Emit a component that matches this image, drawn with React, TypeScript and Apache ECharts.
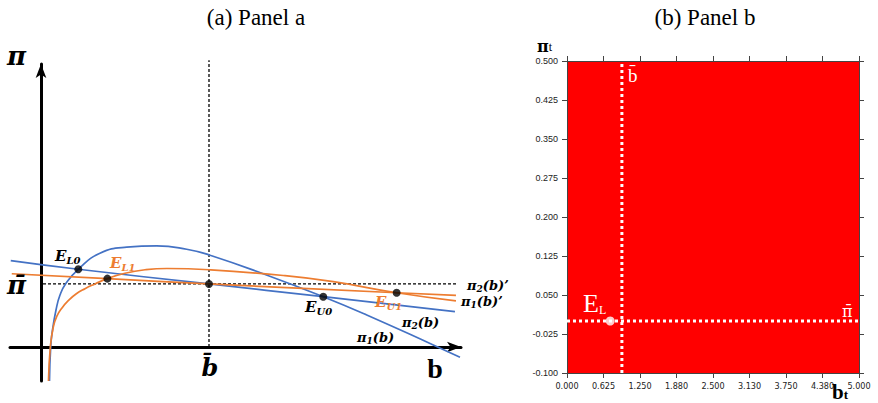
import React, { useEffect, useRef } from 'react';
import * as echarts from 'echarts';

// ---- Panel a: schematic curves in (b, π) units, with b̄ = 1 and π̄ = 1 ----
const pi1Curve: number[][] = [
  [0.0506, -0.54], [0.0577, 0], [0.0685, 0.27], [0.0893, 0.587], [0.1131, 0.825],
  [0.1488, 1.011], [0.222, 1.233], [0.351, 1.487], [0.51, 1.583], [0.689, 1.603],
  [0.867, 1.551], [1.002, 1.46], [1.35, 1.135], [1.68, 0.798],
  [1.939, 0.508], [2.335, 0.032], [2.494, -0.163],
];
const pi2Curve: number[][] = [
  [-0.18, 1.37], [0.222, 1.233], [1.0, 1.0], [1.68, 0.798], [2.464, 0.56],
];
const pi1PrimeCurve: number[][] = [
  [0.0446, -0.54], [0.0554, 0], [0.0732, 0.317], [0.0952, 0.492], [0.125, 0.619],
  [0.1607, 0.73], [0.2083, 0.841], [0.2619, 0.925], [0.3214, 1.0], [0.395, 1.085],
  [0.5, 1.17], [0.62, 1.225], [0.75, 1.245], [1.002, 1.225], [1.442, 1.134], [1.74, 1.036],
  [2.117, 0.86], [2.47, 0.73],
];
const pi2PrimeCurve: number[][] = [
  [-0.174, 1.162], [0.395, 1.085], [1.0, 1.0], [2.117, 0.86], [2.47, 0.818],
];
// E_L0, E_L1, (b̄, π̄), E_U0, E_U1
const equilibria: number[][] = [
  [0.222, 1.233], [0.395, 1.085], [1.0, 1.0], [1.68, 0.798], [2.117, 0.86],
];
const piBar = 1;
const bBar = 1;

// ---- Panel b: simulated (b_t, π_t) plane ----
const bBarB = 0.94;
const piBarB = 0;
const lowEquilibriumB: number[][] = [[0.74, 0]];
const xTicksB = [0, 0.625, 1.25, 1.875, 2.5, 3.125, 3.75, 4.375, 5];
const xTickLabelsB = ['0.000', '0.625', '1.250', '1.880', '2.500', '3.130', '3.750', '4.380', '5.000'];
const yTicksB = [-0.1, -0.025, 0.05, 0.125, 0.2, 0.275, 0.35, 0.425, 0.5];

const BLUE = '#4472C4';
const ORANGE = '#ED7D31';
const MATH = 'DejaVu Serif';
const SERIF = 'Liberation Serif';

const bi = (size: number, fill: string, extra: Record<string, unknown> = {}) => ({
  fontFamily: MATH, fontStyle: 'italic', fontWeight: 'bold', fontSize: size, fill, ...extra,
});

function txt(x: number, y: number, text: string, rich: Record<string, unknown>, align = 'left') {
  return {
    type: 'text', x, y, silent: true, z: 100,
    style: { text, rich, align, verticalAlign: 'middle', textAlign: align, textVerticalAlign: 'middle' },
  };
}

function subLabel(x: number, y: number, main: string, sub: string, tail: string, size: number, fill: string) {
  const rich = {
    m: bi(size, fill, { lineHeight: size + 4 }),
    s: bi(Math.round(size * 0.68), fill, { verticalAlign: 'bottom', lineHeight: Math.round(size * 0.68) }),
  };
  const text = `{m|${main}}{s|${sub}}` + (tail ? `{m|${tail}}` : '');
  return txt(x, y, text, rich);
}

const lineSeries = (data: number[][], color: string, smooth: number) => ({
  type: 'line', xAxisIndex: 0, yAxisIndex: 0, data, smooth,
  showSymbol: false, symbol: 'none', silent: true, z: 3,
  lineStyle: { color, width: 1.7 },
});

const thinAxisLine = { show: true, onZero: false, lineStyle: { color: '#444', width: 1 } };

const option = {
  animation: false,
  backgroundColor: '#ffffff',
  grid: [
    { left: 10, top: 64, right: 417, bottom: 22 },
    { left: 567, top: 61, right: 19, bottom: 30, show: true, backgroundColor: '#ff0000', borderWidth: 0 },
  ],
  xAxis: [
    {
      gridIndex: 0, type: 'value', min: -0.1845, max: 2.5,
      axisLine: { show: true, onZero: true, symbol: ['none', 'arrow'], symbolSize: [8, 14], lineStyle: { color: '#000', width: 3 } },
      axisTick: { show: false }, axisLabel: { show: false }, splitLine: { show: false },
    },
    {
      gridIndex: 1, type: 'value', min: 0, max: 5, position: 'bottom',
      axisLine: thinAxisLine,
      axisTick: { show: true, length: 5, customValues: xTicksB, lineStyle: { color: '#444' } },
      axisLabel: {
        show: true, customValues: xTicksB, margin: 8, fontSize: 9, color: '#222',
        fontFamily: 'Liberation Sans Narrow, DejaVu Sans Condensed, Liberation Sans',
        formatter: (v: number) => {
          const i = xTicksB.findIndex((t) => Math.abs(t - v) < 1e-6);
          return i >= 0 ? xTickLabelsB[i] : '';
        },
      },
      splitLine: { show: false },
    },
    {
      gridIndex: 1, type: 'value', min: 0, max: 5, position: 'top',
      axisLine: thinAxisLine,
      axisTick: { show: true, length: 5, customValues: xTicksB, lineStyle: { color: '#444' } },
      axisLabel: { show: false }, splitLine: { show: false },
    },
  ],
  yAxis: [
    {
      gridIndex: 0, type: 'value', min: -0.54, max: 4.49,
      axisLine: { show: true, onZero: true, symbol: ['none', 'arrow'], symbolSize: [8, 14], lineStyle: { color: '#000', width: 3 } },
      axisTick: { show: false }, axisLabel: { show: false }, splitLine: { show: false },
    },
    {
      gridIndex: 1, type: 'value', min: -0.1, max: 0.5, position: 'left',
      axisLine: thinAxisLine,
      axisTick: { show: true, length: 5, customValues: yTicksB, lineStyle: { color: '#444' } },
      axisLabel: {
        show: true, customValues: yTicksB, margin: 9, fontSize: 9, color: '#222',
        fontFamily: 'Liberation Sans', formatter: (v: number) => v.toFixed(3),
      },
      splitLine: { show: false },
    },
    {
      gridIndex: 1, type: 'value', min: -0.1, max: 0.5, position: 'right',
      axisLine: thinAxisLine,
      axisTick: { show: true, length: 5, customValues: yTicksB, lineStyle: { color: '#444' } },
      axisLabel: { show: false }, splitLine: { show: false },
    },
  ],
  series: [
    {
      type: 'line', xAxisIndex: 0, yAxisIndex: 0, symbol: 'none', silent: true, z: 2,
      data: [[0.012, piBar], [2.482, piBar]],
      lineStyle: { color: '#000', width: 1.3, type: [3, 2] },
    },
    {
      type: 'line', xAxisIndex: 0, yAxisIndex: 0, symbol: 'none', silent: true, z: 2, clip: false,
      data: [[bBar, 0], [bBar, 4.55]],
      lineStyle: { color: '#000', width: 1.3, type: [3, 2] },
    },
    lineSeries(pi1Curve, BLUE, 0.5),
    lineSeries(pi2Curve, BLUE, 0.5),
    lineSeries(pi1PrimeCurve, ORANGE, 0.5),
    lineSeries(pi2PrimeCurve, ORANGE, 0.5),
    {
      type: 'scatter', xAxisIndex: 0, yAxisIndex: 0, data: equilibria, symbolSize: 8, silent: true, z: 5,
      itemStyle: { color: '#000' },
    },
    {
      type: 'line', xAxisIndex: 1, yAxisIndex: 1, symbol: 'none', silent: true, z: 3,
      data: [[bBarB, -0.1], [bBarB, 0.5]],
      lineStyle: { color: '#fff', width: 3, type: 'dotted' },
    },
    {
      type: 'line', xAxisIndex: 1, yAxisIndex: 1, symbol: 'none', silent: true, z: 3,
      data: [[0, piBarB], [5, piBarB]],
      lineStyle: { color: '#fff', width: 3, type: 'dotted' },
    },
    {
      type: 'scatter', xAxisIndex: 1, yAxisIndex: 1, data: lowEquilibriumB, symbolSize: 9, silent: true, z: 5,
      itemStyle: { color: '#fff' },
    },
  ],
  graphic: [
    // titles
    txt(256, 17, '{t|(a) Panel a}', { t: { fontFamily: SERIF, fontSize: 23, fill: '#000' } }, 'center'),
    txt(705, 17, '{t|(b) Panel b}', { t: { fontFamily: SERIF, fontSize: 23, fill: '#000' } }, 'center'),
    // panel a axis labels
    txt(7, 56, '{p|π}', { p: bi(26, '#000') }),
    txt(7, 285, '{p|π\u0304}', { p: bi(26, '#000') }),
    txt(210, 367, '{p|b\u0304}', { p: bi(24, '#000') }, 'center'),
    txt(435, 368, '{p|b}', { p: { fontFamily: SERIF, fontWeight: 'bold', fontSize: 28, fill: '#000' } }, 'center'),
    // equilibrium and curve labels
    subLabel(55, 256, 'E', 'L0', '', 15, '#000'),
    subLabel(110, 263, 'E', 'L1', '', 15, ORANGE),
    subLabel(305, 307, 'E', 'U0', '', 15, '#000'),
    subLabel(375, 302, 'E', 'U1', '', 15, ORANGE),
    subLabel(402, 322, 'π', '2', '(b)', 13, '#000'),
    subLabel(357, 337, 'π', '1', '(b)', 13, '#000'),
    subLabel(467, 285, 'π', '2', '(b)’', 13, '#000'),
    subLabel(461, 301, 'π', '1', '(b)’', 13, '#000'),
    // panel b labels
    txt(537, 46, '{m|π}{s|t}', {
      m: { fontFamily: MATH, fontWeight: 'bold', fontSize: 16, fill: '#000', lineHeight: 13 },
      s: { fontFamily: SERIF, fontSize: 12, fill: '#000', verticalAlign: 'bottom', lineHeight: 10 },
    }),
    txt(832, 392, '{m|b}{s|t}', {
      m: { fontFamily: SERIF, fontWeight: 'bold', fontSize: 21, fill: '#000', lineHeight: 18 },
      s: { fontFamily: SERIF, fontWeight: 'bold', fontSize: 13, fill: '#000', verticalAlign: 'bottom', lineHeight: 11 },
    }),
    txt(583, 303, '{m|E}{s|L}', {
      m: { fontFamily: SERIF, fontSize: 26, fill: '#fff', lineHeight: 26 },
      s: { fontFamily: SERIF, fontSize: 12, fill: '#fff', verticalAlign: 'bottom', lineHeight: 12 },
    }),
    txt(628, 75, '{m|b\u0304}', { m: { fontFamily: SERIF, fontSize: 19, fill: '#fff' } }),
    txt(842, 311, '{m|π\u0304}', { m: { fontFamily: MATH, fontSize: 16, fill: '#fff' } }),
  ],
};

export default function App() {
  const ref = useRef<HTMLDivElement>(null);
  useEffect(() => {
    const chart = echarts.init(ref.current!, undefined, { renderer: 'svg' });
    chart.setOption(option as any);
    return () => chart.dispose();
  }, []);
  return (
    <div
      ref={ref}
      style={{ position: 'absolute', left: 0, top: 0, width: 878, height: 403, background: '#fff' }}
    />
  );
}
